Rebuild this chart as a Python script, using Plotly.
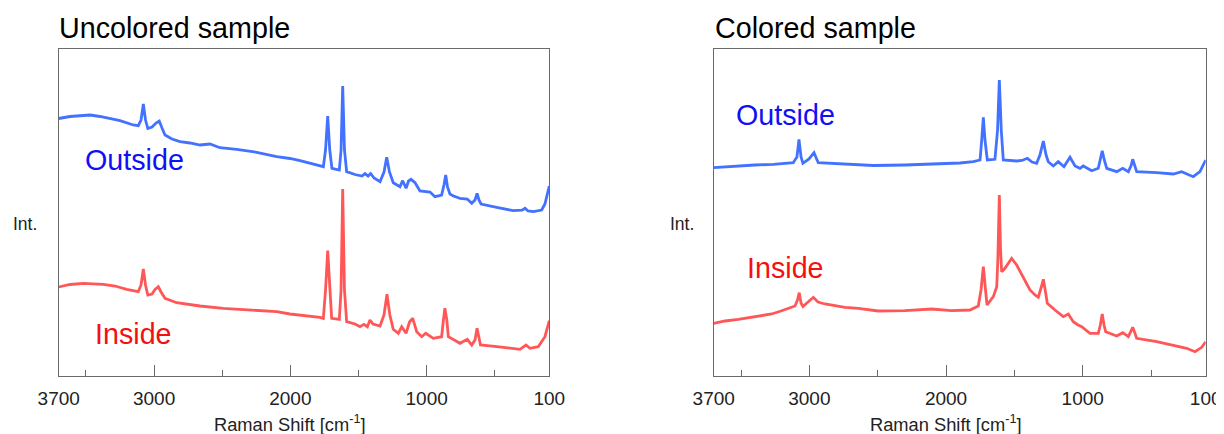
import plotly.graph_objects as go

# ---------------- data ----------------
# Wavenumbers [cm-1] and relative intensities (arbitrary units)
unc_out_w = [3700, 3617, 3470, 3397, 3250, 3153, 3116, 3096, 3079, 3063, 3046, 3015, 2986, 2962, 2942,
             2920, 2869, 2810, 2737, 2663, 2590, 2517, 2394, 2247, 2100, 2003, 1929, 1856, 1783, 1758,
             1742, 1726, 1711, 1695, 1641, 1628, 1616, 1603, 1587, 1526, 1474, 1452, 1430, 1411, 1386,
             1342, 1313, 1293, 1273, 1245, 1196, 1176, 1151, 1133, 1115, 1085, 1049, 1000, 975, 939,
             890, 873, 860, 847, 829, 804, 755, 702, 669, 645, 630, 616, 601, 486, 364, 300, 278, 256,
             217, 156, 132, 119, 100]
unc_out_i = [257.2, 259.2, 260.7, 259.2, 255.0, 250.7, 250.0, 255.7, 271.7, 255.7, 247.2, 248.7, 252.7,
             254.7, 247.7, 240.7, 236.7, 234.0, 232.7, 230.7, 231.7, 228.0, 226.4, 223.4, 219.0, 217.2,
             215.0, 212.7, 209.7, 209.0, 225.7, 259.7, 225.7, 207.4, 205.7, 225.7, 289.7, 225.7, 204.0,
             201.2, 199.7, 202.2, 199.7, 202.2, 197.7, 194.0, 203.7, 218.4, 203.7, 193.0, 189.0, 195.0,
             187.4, 194.7, 196.4, 193.0, 184.7, 184.0, 183.7, 179.0, 180.7, 190.7, 200.7, 188.7, 181.7,
             179.7, 177.4, 176.7, 172.4, 175.7, 182.4, 175.7, 171.7, 168.4, 165.0, 165.5, 167.4, 164.7,
             164.0, 165.7, 171.7, 179.0, 189.7]

unc_in_w = [3700, 3617, 3520, 3373, 3287, 3201, 3116, 3096, 3079, 3063, 3046, 3015, 2993, 2969, 2949,
            2920, 2834, 2663, 2492, 2296, 2100, 2003, 1929, 1783, 1758, 1742, 1726, 1711, 1697, 1641,
            1628, 1616, 1603, 1587, 1526, 1489, 1460, 1435, 1416, 1394, 1342, 1313, 1291, 1270, 1245,
            1208, 1183, 1151, 1126, 1102, 1073, 1036, 1007, 951, 890, 877, 866, 852, 841, 755, 702, 669,
            645, 630, 616, 605, 486, 315, 271, 242, 181, 132, 100]
unc_in_i = [88.7, 91.2, 92.4, 91.4, 89.7, 86.4, 84.0, 90.7, 106.7, 90.7, 80.7, 81.7, 86.2, 89.0, 83.7,
            77.4, 73.0, 69.7, 67.4, 65.7, 64.0, 61.7, 60.7, 58.4, 57.4, 85.7, 125.0, 85.7, 57.4, 56.4,
            85.7, 186.7, 85.7, 54.0, 51.7, 49.0, 51.4, 49.0, 55.7, 51.7, 49.7, 60.7, 81.4, 60.7, 46.4,
            42.4, 49.0, 42.4, 53.7, 57.4, 44.0, 39.0, 42.4, 37.4, 39.0, 55.7, 67.4, 55.7, 39.0, 32.4,
            36.4, 30.7, 35.7, 47.4, 35.7, 30.7, 29.0, 26.4, 30.7, 27.4, 29.0, 39.0, 55.0]

col_out_w = [3700, 3508, 3398, 3264, 3118, 3091, 3076, 3061, 3047, 3003, 2966, 2935, 2776, 2532, 2300,
             2044, 1898, 1800, 1751, 1739, 1727, 1715, 1698, 1642, 1623, 1610, 1596, 1581, 1483, 1444,
             1405, 1371, 1337, 1313, 1288, 1268, 1252, 1215, 1179, 1137, 1093, 1056, 1020, 996, 934,
             886, 871, 857, 842, 824, 751, 707, 666, 647, 634, 621, 605, 459, 337, 276, 191, 142, 100]
col_out_i = [208.0, 210.0, 210.7, 211.4, 213.0, 218.7, 236.4, 218.7, 212.4, 216.7, 223.0, 213.0, 211.7,
             210.2, 210.7, 211.7, 212.7, 214.0, 215.7, 235.7, 258.4, 235.7, 215.7, 216.4, 245.7, 295.7,
             245.7, 215.7, 214.7, 215.2, 217.4, 213.7, 212.4, 220.7, 234.7, 220.7, 214.0, 209.7, 214.0,
             209.0, 218.4, 209.7, 207.4, 209.7, 205.0, 207.4, 215.7, 225.0, 215.7, 207.4, 204.0, 207.4,
             204.0, 209.7, 216.4, 209.7, 204.0, 203.0, 201.7, 204.0, 199.0, 204.0, 215.7]

col_in_w = [3700, 3617, 3520, 3398, 3276, 3208, 3154, 3105, 3087, 3074, 3061, 3047, 3010, 2971, 2937,
            2886, 2739, 2642, 2496, 2300, 2105, 1959, 1825, 1764, 1744, 1727, 1711, 1700, 1654, 1629,
            1621, 1610, 1601, 1593, 1569, 1520, 1483, 1435, 1386, 1349, 1325, 1305, 1288, 1272, 1259,
            1203, 1142, 1105, 1069, 1034, 1007, 947, 886, 871, 857, 844, 832, 751, 707, 666, 647, 634,
            621, 605, 459, 337, 239, 178, 129, 100]
col_in_i = [52.4, 54.7, 56.4, 59.2, 61.7, 64.7, 67.4, 69.7, 75.7, 83.0, 72.7, 69.2, 73.7, 78.4, 73.7,
            71.7, 68.4, 67.4, 64.7, 65.0, 66.7, 65.0, 65.7, 69.7, 85.7, 109.0, 85.7, 70.7, 79.0, 89.0,
            115.7, 180.7, 125.7, 104.0, 107.4, 117.4, 110.7, 99.0, 85.7, 80.7, 78.4, 87.7, 96.4, 83.7,
            72.4, 65.7, 59.0, 61.7, 54.0, 50.7, 49.0, 42.4, 42.4, 50.7, 61.7, 50.7, 44.0, 39.7, 43.0,
            39.0, 43.7, 48.4, 43.7, 37.4, 34.0, 30.7, 27.4, 24.0, 28.4, 34.0]

x_tickvals = [3700, 3000, 2000, 1000, 100]
x_ticktext = ["3700", "3000", "2000", "1000", "100"]
x_minor_vals = [3500, 2500, 1500, 500]

panel_titles = ["Uncolored sample", "Colored sample"]
x_title = "Raman Shift [cm<sup>-1</sup>]"
y_title = "Int."
label_out = "Outside"
label_in = "Inside"

# ---------------- styling ----------------
# The page body has an 8 px margin, so the figure is drawn 8 px in from the
# window's corner; page coordinates below are converted accordingly.
OFF = 8
W, H = 1224 - OFF, 434 - OFF
FONT = "Arial, Liberation Sans, sans-serif"
LINE_BLUE = "#4272FF"
LINE_RED = "#FF5757"
TXT_BLUE = "#1010F5"
TXT_RED = "#F51010"
FRAME = "#6a6a6a"


def px(x):
    return (x - OFF) / W


def py(y):
    return 1 - (y - OFF) / H


fig = go.Figure()
for xs, ys, col, xa, ya in [
    (unc_out_w, unc_out_i, LINE_BLUE, "x", "y"),
    (unc_in_w, unc_in_i, LINE_RED, "x", "y"),
    (col_out_w, col_out_i, LINE_BLUE, "x2", "y2"),
    (col_in_w, col_in_i, LINE_RED, "x2", "y2"),
]:
    fig.add_trace(go.Scatter(x=xs, y=ys, mode="lines", xaxis=xa, yaxis=ya,
                             line=dict(color=col, width=2.8), hoverinfo="x+y"))

xaxis_common = dict(
    range=[3700, 100], tickmode="array", tickvals=x_tickvals, ticktext=x_ticktext,
    ticks="inside", ticklen=11, tickwidth=1.3, tickcolor=FRAME,
    minor=dict(tickmode="array", tickvals=x_minor_vals, ticks="inside", ticklen=6,
               tickwidth=1.3, tickcolor=FRAME, showgrid=False),
    showline=True, mirror=True, linecolor=FRAME, linewidth=1.3,
    showgrid=False, zeroline=False, ticklabelstandoff=5, automargin=False,
    tickfont=dict(family=FONT, size=19, color="#222222"),
)
yaxis_common = dict(
    range=[0, 326.4], showticklabels=False, ticks="", showgrid=False, zeroline=False,
    showline=True, mirror=True, linecolor=FRAME, linewidth=1.3, automargin=False,
)

ydom = [py(375.7), py(49.3)]
fig.update_layout(
    width=W, height=H, margin=dict(l=0, r=0, t=0, b=0, pad=0, autoexpand=False),
    paper_bgcolor="white", plot_bgcolor="white", showlegend=False,
    xaxis=dict(domain=[px(58.7), px(549.3)], anchor="y", **xaxis_common),
    yaxis=dict(domain=ydom, anchor="x", **yaxis_common),
    xaxis2=dict(domain=[px(713.7), px(1205.7)], anchor="y2", **xaxis_common),
    yaxis2=dict(domain=ydom, anchor="x2", **yaxis_common),
)

ann = []
# panel titles
ann.append(dict(text=panel_titles[0], x=px(56.5), y=py(28.0), xanchor="left", yanchor="middle",
                font=dict(family=FONT, size=28.7, color="black")))
ann.append(dict(text=panel_titles[1], x=px(713.5), y=py(28.0), xanchor="left", yanchor="middle",
                font=dict(family=FONT, size=28.7, color="black")))
# y labels
for cx in (25, 682):
    ann.append(dict(text=y_title, x=px(cx), y=py(224), xanchor="center", yanchor="middle",
                    font=dict(family=FONT, size=17.5, color="#222222")))
# series labels
ann.append(dict(text=label_out, x=px(134.3), y=py(160.3), xanchor="center", yanchor="middle",
                font=dict(family=FONT, size=28.7, color=TXT_BLUE)))
ann.append(dict(text=label_in, x=px(133.8), y=py(334.2), xanchor="center", yanchor="middle",
                font=dict(family=FONT, size=28.7, color=TXT_RED)))
ann.append(dict(text=label_out, x=px(785.8), y=py(114.5), xanchor="center", yanchor="middle",
                font=dict(family=FONT, size=28.7, color=TXT_BLUE)))
ann.append(dict(text=label_in, x=px(785.8), y=py(267.8), xanchor="center", yanchor="middle",
                font=dict(family=FONT, size=28.7, color=TXT_RED)))
# x axis titles, centred under 2000 cm-1
for xr in ("x", "x2"):
    ann.append(dict(text=x_title, x=2000, xref=xr, y=py(423.0), yref="paper",
                    xanchor="center", yanchor="middle",
                    font=dict(family=FONT, size=18.3, color="#222222")))

for a in ann:
    a.setdefault("xref", "paper")
    a.setdefault("yref", "paper")
    a["showarrow"] = False
fig.update_layout(annotations=ann)

fig.write_html("out.html")
